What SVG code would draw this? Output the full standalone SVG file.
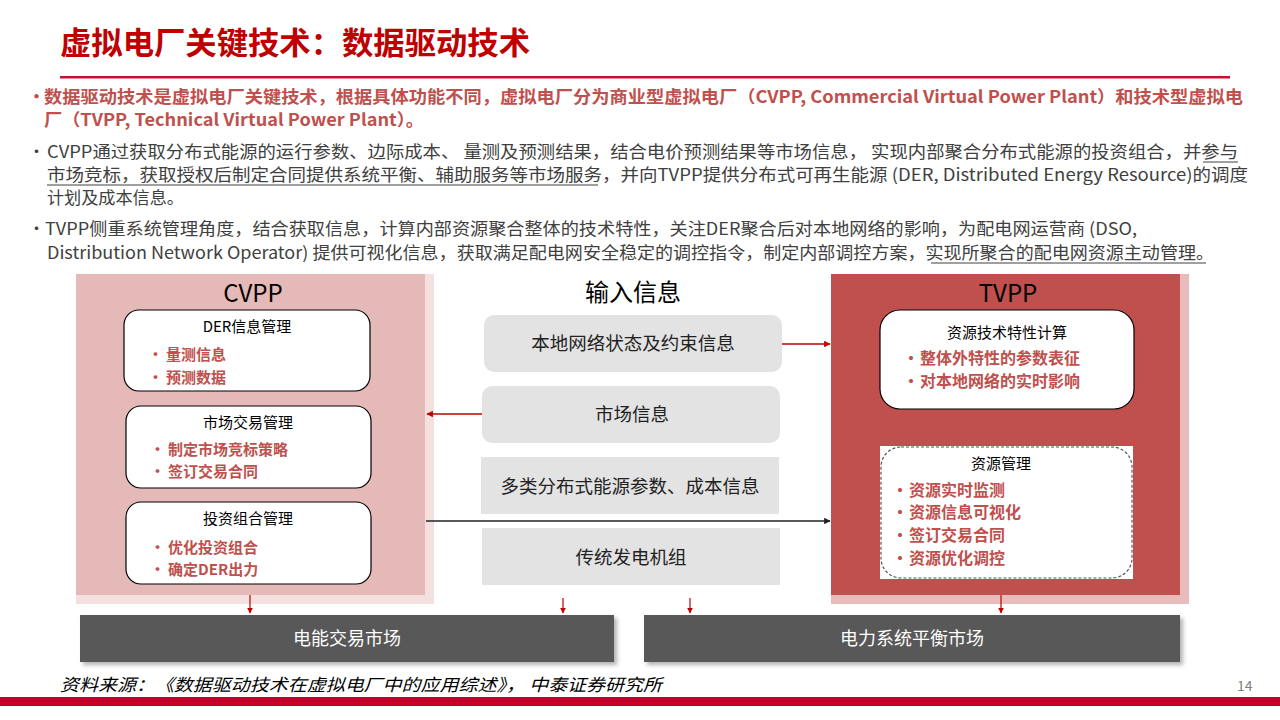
<svg xmlns="http://www.w3.org/2000/svg" width="1280" height="720" viewBox="0 0 1280 720">
<defs>
<marker id="ar" viewBox="0 0 10 10" refX="9" refY="5" markerWidth="5" markerHeight="5" orient="auto"><path d="M0,0 L10,5 L0,10 z" fill="#c00000"/></marker>
<marker id="ak" viewBox="0 0 10 10" refX="9" refY="5" markerWidth="5" markerHeight="5" orient="auto"><path d="M0,0 L10,5 L0,10 z" fill="#222"/></marker>
<filter id="sh" x="-5%" y="-20%" width="112%" height="150%"><feDropShadow dx="3" dy="3" stdDeviation="2" flood-color="#000" flood-opacity="0.3"/></filter>
</defs>
<style>
text{font-family:"Noto Sans CJK SC","Microsoft YaHei",sans-serif;}
.b1{fill:#c0504d;font-weight:bold;font-size:17px;}
.b2{fill:#404040;font-size:17px;}
.hd{fill:#000;font-size:24px;text-anchor:middle;}
.bt{fill:#000;font-size:15px;text-anchor:middle;}
.bl{fill:#c0504d;font-size:15px;font-weight:bold;}
.bl2{fill:#c0504d;font-size:16px;font-weight:bold;}
.mid{fill:#222;font-size:18.5px;text-anchor:middle;}
.mk{fill:#fff;font-size:18px;text-anchor:middle;}
.wbox{fill:#fff;stroke:#000;stroke-width:1.2;}
.gbox{fill:#e3e3e3;}
.ul{stroke:#404040;stroke-width:1;}
</style>
<rect width="1280" height="720" fill="#fff"/>
<text x="60" y="54" font-size="31" font-weight="bold" fill="#c00000" textLength="470" lengthAdjust="spacingAndGlyphs">虚拟电厂关键技术：数据驱动技术</text>
<rect x="60" y="76" width="1170" height="2.5" fill="#c8102e"/>
<text x="28" y="103" class="b1">•</text>
<text x="44" y="103" class="b1" textLength="1199" lengthAdjust="spacingAndGlyphs">数据驱动技术是虚拟电厂关键技术，根据具体功能不同，虚拟电厂分为商业型虚拟电厂（CVPP, Commercial Virtual Power Plant）和技术型虚拟电</text>
<text x="44" y="126" class="b1" textLength="380" lengthAdjust="spacingAndGlyphs">厂（TVPP, Technical Virtual Power Plant）。</text>
<text x="28" y="158" class="b2">•</text>
<text x="47" y="158" class="b2" textLength="1191" lengthAdjust="spacingAndGlyphs">CVPP通过获取分布式能源的运行参数、边际成本、 量测及预测结果，结合电价预测结果等市场信息， 实现内部聚合分布式能源的投资组合，并参与</text>
<line x1="1203" y1="162" x2="1238" y2="162" class="ul"/>
<text x="47" y="181" class="b2" textLength="1201" lengthAdjust="spacingAndGlyphs">市场竞标，获取授权后制定合同提供系统平衡、辅助服务等市场服务，并向TVPP提供分布式可再生能源 (DER, Distributed Energy Resource)的调度</text>
<line x1="47" y1="185" x2="598" y2="185" class="ul"/>
<text x="47" y="204" class="b2" textLength="137" lengthAdjust="spacingAndGlyphs">计划及成本信息。</text>
<text x="28" y="235" class="b2">•</text>
<text x="45" y="235" class="b2" textLength="1092" lengthAdjust="spacingAndGlyphs">TVPP侧重系统管理角度，结合获取信息，计算内部资源聚合整体的技术特性，关注DER聚合后对本地网络的影响，为配电网运营商 (DSO,</text>
<text x="47" y="259" class="b2" textLength="1167" lengthAdjust="spacingAndGlyphs">Distribution Network Operator) 提供可视化信息，获取满足配电网安全稳定的调控指令，制定内部调控方案，实现所聚合的配电网资源主动管理。</text>
<line x1="931" y1="263" x2="1206" y2="263" class="ul"/>

<g id="cvpp">
<rect x="76" y="274" width="358" height="330" fill="#f5e0e0"/>
<rect x="76" y="274" width="349" height="321" fill="#e4b9b7"/>
<text x="253" y="302" class="hd">CVPP</text>
</g>
<g id="der">
<rect x="124" y="310" width="246" height="81" rx="15" class="wbox"/>
<text x="247" y="332" class="bt">DER信息管理</text>
<text x="148" y="360" class="bl">•</text><text x="166" y="360" class="bl">量测信息</text>
<text x="148" y="383" class="bl">•</text><text x="166" y="383" class="bl">预测数据</text>
</g>
<g id="market-trade">
<rect x="126" y="406" width="245" height="82" rx="15" class="wbox"/>
<text x="248" y="428" class="bt">市场交易管理</text>
<text x="150" y="455" class="bl">•</text><text x="168" y="455" class="bl">制定市场竞标策略</text>
<text x="150" y="477" class="bl">•</text><text x="168" y="477" class="bl">签订交易合同</text>
</g>
<g id="portfolio">
<rect x="126" y="502" width="245" height="82" rx="15" class="wbox"/>
<text x="248" y="524" class="bt">投资组合管理</text>
<text x="150" y="553" class="bl">•</text><text x="168" y="553" class="bl">优化投资组合</text>
<text x="150" y="575" class="bl">•</text><text x="168" y="575" class="bl">确定DER出力</text>
</g>

<g id="input">
<text x="633" y="301" class="hd">输入信息</text>
</g>
<g id="local-net">
<rect x="484" y="315" width="298" height="57" rx="10" class="gbox"/>
<text x="633" y="350" class="mid">本地网络状态及约束信息</text>
</g>
<g id="market-info">
<rect x="482" y="386" width="298" height="57" rx="10" class="gbox"/>
<text x="632" y="421" class="mid">市场信息</text>
</g>
<g id="der-params">
<rect x="481" y="457" width="298" height="57" class="gbox"/>
<text x="630" y="493" class="mid">多类分布式能源参数、成本信息</text>
</g>
<g id="gen">
<rect x="482" y="528" width="298" height="57" class="gbox"/>
<text x="631" y="564" class="mid">传统发电机组</text>
</g>

<g id="tvpp">
<rect x="831" y="274" width="358" height="330" fill="#e9bcbb"/>
<rect x="831" y="274" width="349" height="321" fill="#c0504d"/>
<text x="1008" y="302" class="hd">TVPP</text>
</g>
<g id="tech-calc">
<rect x="880" y="310" width="254" height="99" rx="20" class="wbox"/>
<text x="1007" y="338" class="bt" font-size="16">资源技术特性计算</text>
<text x="903" y="364" class="bl2">•</text><text x="920" y="364" class="bl2">整体外特性的参数表征</text>
<text x="903" y="387" class="bl2">•</text><text x="920" y="387" class="bl2">对本地网络的实时影响</text>
</g>
<g id="res-mgmt">
<rect x="880" y="446" width="253" height="133" fill="#fff"/>
<rect x="881" y="447" width="251" height="131" rx="20" fill="none" stroke="#555" stroke-width="1.2" stroke-dasharray="3,2"/>
<text x="1001" y="469" class="bt" font-size="16">资源管理</text>
<text x="892" y="496" class="bl2">•</text><text x="909" y="496" class="bl2">资源实时监测</text>
<text x="892" y="518" class="bl2">•</text><text x="909" y="518" class="bl2">资源信息可视化</text>
<text x="892" y="541" class="bl2">•</text><text x="909" y="541" class="bl2">签订交易合同</text>
<text x="892" y="564" class="bl2">•</text><text x="909" y="564" class="bl2">资源优化调控</text>
</g>

<g id="energy-market">
<rect x="80" y="615" width="534" height="47" fill="#595959" filter="url(#sh)"/>
<text x="347" y="645" class="mk">电能交易市场</text>
</g>
<g id="balance-market">
<rect x="644" y="615" width="536" height="47" fill="#595959" filter="url(#sh)"/>
<text x="912" y="645" class="mk">电力系统平衡市场</text>
</g>

<g id="connectors" fill="none">
<line x1="782" y1="344" x2="830" y2="344" stroke="#c00000" stroke-width="1.3" marker-end="url(#ar)"/>
<line x1="482" y1="414" x2="427" y2="414" stroke="#c00000" stroke-width="1.3" marker-end="url(#ar)"/>
<line x1="426" y1="521" x2="830" y2="521" stroke="#222" stroke-width="1.3" marker-end="url(#ak)"/>
<line x1="250" y1="595" x2="250" y2="613" stroke="#c00000" stroke-width="1.2" marker-end="url(#ar)"/>
<line x1="563" y1="598" x2="563" y2="613" stroke="#c00000" stroke-width="1.2" marker-end="url(#ar)"/>
<line x1="690" y1="598" x2="690" y2="613" stroke="#c00000" stroke-width="1.2" marker-end="url(#ar)"/>
<line x1="1001" y1="595" x2="1001" y2="613" stroke="#c00000" stroke-width="1.2" marker-end="url(#ar)"/>
</g>

<text x="60" y="691" font-size="17" font-style="italic" fill="#000" textLength="602" lengthAdjust="spacingAndGlyphs">资料来源：《数据驱动技术在虚拟电厂中的应用综述》， 中泰证券研究所</text>
<text x="1237" y="691" font-size="14" fill="#808080" font-family="Liberation Sans, sans-serif">14</text>
<rect x="0" y="697" width="1280" height="9" fill="#c00028"/>
</svg>
